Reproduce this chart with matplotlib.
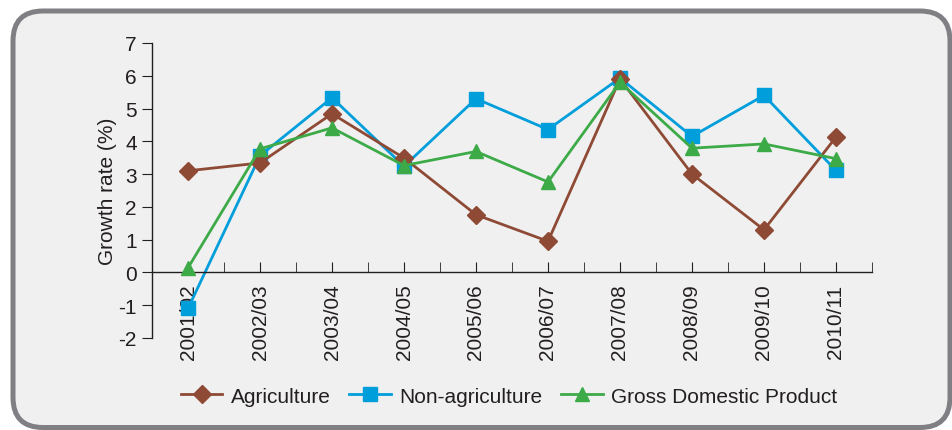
import numpy as np
import matplotlib.pyplot as plt
from matplotlib.patches import FancyBboxPatch

plt.rcParams['font.family'] = ['Liberation Sans', 'DejaVu Sans']
plt.rcParams['axes.unicode_minus'] = False

years = ['2001/02', '2002/03', '2003/04', '2004/05', '2005/06',
         '2006/07', '2007/08', '2008/09', '2009/10', '2010/11']
agriculture = [3.1, 3.34, 4.84, 3.49, 1.76, 0.95, 5.9, 3.0, 1.3, 4.13]
non_agriculture = [-1.1, 3.56, 5.33, 3.24, 5.3, 4.36, 5.93, 4.15, 5.4, 3.11]
gdp = [0.14, 3.77, 4.41, 3.26, 3.69, 2.76, 5.8, 3.79, 3.92, 3.47]

text_col = '#231F20'
bg = '#F0F0F0'
fs = 15

fig = plt.figure(figsize=(9.53, 4.31), dpi=100)
fig.patch.set_facecolor('white')

# rounded panel behind the chart
panel = FancyBboxPatch((0.13, 0.025), 9.37, 4.165,
                       boxstyle='round,pad=0,rounding_size=0.3',
                       transform=fig.dpi_scale_trans,
                       facecolor=bg, edgecolor='#7F7F84', linewidth=3.6,
                       zorder=-5)
fig.patches.append(panel)

ax = fig.add_axes([0.1595, 0.2135, 0.7555, 0.6845])
ax.set_facecolor('none')
ax.set_zorder(2)

x = np.arange(len(years))
ax.plot(x, agriculture, color='#8E4A35', lw=2, marker='D', ms=9,
        label='Agriculture', zorder=3)
ax.plot(x, non_agriculture, color='#009EDB', lw=2, marker='s', ms=10,
        label='Non-agriculture', zorder=2)
ax.plot(x, gdp, color='#3DAA48', lw=2, marker='^', ms=10,
        label='Gross Domestic Product', zorder=4)

ax.set_xlim(-0.5, len(years) - 0.5)
ax.set_ylim(-2, 7)
ax.set_yticks(range(-2, 8))

ax.spines['top'].set_visible(False)
ax.spines['right'].set_visible(False)
ax.spines['bottom'].set_position(('data', 0))
for s in ('left', 'bottom'):
    ax.spines[s].set_color(text_col)
    ax.spines[s].set_linewidth(1)

ax.set_xticks(x)
ax.set_xticklabels(years, rotation=90)
ax.set_xticks(np.arange(-0.5, len(years)), minor=True)
ax.tick_params(axis='x', which='both', direction='in', length=7,
               color=text_col, labelsize=fs, labelcolor=text_col, pad=8)
ax.tick_params(axis='y', direction='out', length=7, color=text_col,
               labelsize=fs, labelcolor=text_col, pad=4)

ax.set_ylabel('Growth rate (%)', fontsize=fs, color=text_col, labelpad=1)

ax.legend(loc='center', bbox_to_anchor=(0.496, -0.197), ncol=3, frameon=False,
          fontsize=fs, handlelength=2.0, columnspacing=0.9, handletextpad=0.4,
          labelcolor=text_col)

fig.savefig('out.png', dpi=100)
